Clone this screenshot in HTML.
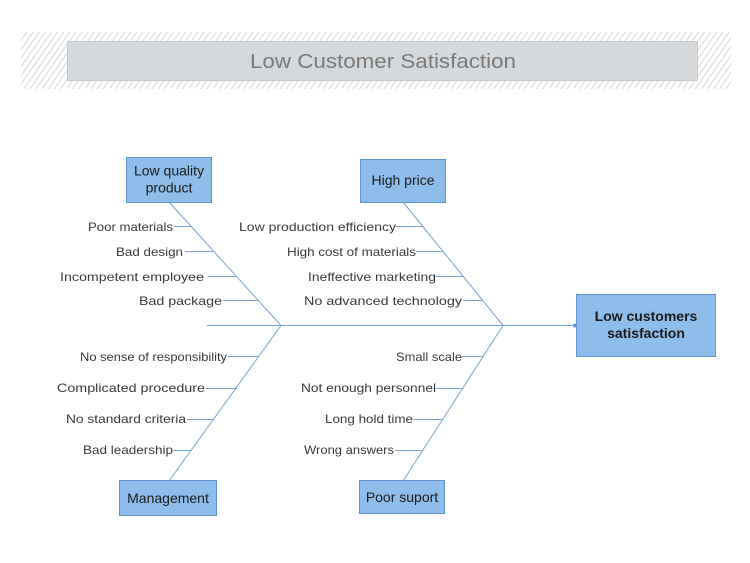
<!DOCTYPE html>
<html>
<head>
<meta charset="utf-8">
<style>
html,body{margin:0;padding:0;background:#fff;}
svg{display:block;}
.lbl{font-family:"Liberation Sans",sans-serif;font-size:12px;fill:#3a3a3a;}
.box{fill:#8fbdeb;stroke:#5f93d2;stroke-width:1;}
.bt{font-family:"Liberation Sans",sans-serif;font-size:14px;fill:#1a1a1a;text-anchor:middle;}
.ln{stroke:#77a3da;stroke-width:1;fill:none;}
</style>
</head>
<body>
<svg width="750" height="563" viewBox="0 0 750 563" xmlns="http://www.w3.org/2000/svg">
<defs>
<pattern id="hatch" patternUnits="userSpaceOnUse" width="5" height="5" patternTransform="rotate(35)">
<line x1="0.5" y1="0" x2="0.5" y2="5" stroke="#d6d6d6" stroke-width="1"/>
</pattern>
</defs>
<!-- title -->
<rect x="21" y="32" width="710" height="57" fill="url(#hatch)"/>
<rect x="67.5" y="41.5" width="630" height="39" fill="#d5d9dc" stroke="#c3c8cb"/>
<rect x="67.5" y="41.5" width="630" height="39" fill="url(#hatch)" opacity="0.35"/>
<text x="383" y="68" font-family="Liberation Sans, sans-serif" font-size="20" fill="#7a7a7a" text-anchor="middle" textLength="266" lengthAdjust="spacingAndGlyphs">Low Customer Satisfaction</text>

<!-- spine -->
<line class="ln" x1="207" y1="325.5" x2="575" y2="325.5"/>
<circle cx="575" cy="325.5" r="2" fill="#5f93d2"/>

<!-- diagonals -->
<line class="ln" x1="169" y1="202" x2="281" y2="325.5"/>
<line class="ln" x1="281" y1="325.5" x2="169" y2="481"/>
<line class="ln" x1="403" y1="202" x2="503" y2="325.5"/>
<line class="ln" x1="503" y1="325.5" x2="403" y2="481"/>

<!-- left-top sub lines -->
<line class="ln" x1="174" y1="226.5" x2="191" y2="226.5"/>
<line class="ln" x1="185" y1="251.5" x2="213" y2="251.5"/>
<line class="ln" x1="208" y1="276.5" x2="236" y2="276.5"/>
<line class="ln" x1="223" y1="300.5" x2="258" y2="300.5"/>
<!-- right-top -->
<line class="ln" x1="396" y1="226.5" x2="423" y2="226.5"/>
<line class="ln" x1="416" y1="251.5" x2="443" y2="251.5"/>
<line class="ln" x1="436" y1="276.5" x2="463" y2="276.5"/>
<line class="ln" x1="463" y1="300.5" x2="483" y2="300.5"/>
<!-- left-bottom -->
<line class="ln" x1="228" y1="356.5" x2="258" y2="356.5"/>
<line class="ln" x1="206" y1="388.5" x2="237" y2="388.5"/>
<line class="ln" x1="187" y1="419.5" x2="214" y2="419.5"/>
<line class="ln" x1="173" y1="450.5" x2="191" y2="450.5"/>
<!-- right-bottom -->
<line class="ln" x1="462" y1="356.5" x2="483" y2="356.5"/>
<line class="ln" x1="436" y1="388.5" x2="463" y2="388.5"/>
<line class="ln" x1="414" y1="419.5" x2="443" y2="419.5"/>
<line class="ln" x1="395" y1="450.5" x2="422" y2="450.5"/>

<!-- labels -->
<text class="lbl" x="173" y="231" text-anchor="end" textLength="85" lengthAdjust="spacingAndGlyphs">Poor materials</text>
<text class="lbl" x="183" y="256" text-anchor="end" textLength="67" lengthAdjust="spacingAndGlyphs">Bad design</text>
<text class="lbl" x="204" y="281" text-anchor="end" textLength="144" lengthAdjust="spacingAndGlyphs">Incompetent employee</text>
<text class="lbl" x="222" y="305" text-anchor="end" textLength="83" lengthAdjust="spacingAndGlyphs">Bad package</text>

<text class="lbl" x="396" y="231" text-anchor="end" textLength="157" lengthAdjust="spacingAndGlyphs">Low production efficiency</text>
<text class="lbl" x="416" y="256" text-anchor="end" textLength="129" lengthAdjust="spacingAndGlyphs">High cost of materials</text>
<text class="lbl" x="436" y="281" text-anchor="end" textLength="128" lengthAdjust="spacingAndGlyphs">Ineffective marketing</text>
<text class="lbl" x="462" y="305" text-anchor="end" textLength="158" lengthAdjust="spacingAndGlyphs">No advanced technology</text>

<text class="lbl" x="227" y="361" text-anchor="end" textLength="147" lengthAdjust="spacingAndGlyphs">No sense of responsibility</text>
<text class="lbl" x="205" y="392" text-anchor="end" textLength="148" lengthAdjust="spacingAndGlyphs">Complicated procedure</text>
<text class="lbl" x="186" y="423" text-anchor="end" textLength="120" lengthAdjust="spacingAndGlyphs">No standard criteria</text>
<text class="lbl" x="173" y="454" text-anchor="end" textLength="90" lengthAdjust="spacingAndGlyphs">Bad leadership</text>

<text class="lbl" x="462" y="361" text-anchor="end" textLength="66" lengthAdjust="spacingAndGlyphs">Small scale</text>
<text class="lbl" x="436" y="392" text-anchor="end" textLength="135" lengthAdjust="spacingAndGlyphs">Not enough personnel</text>
<text class="lbl" x="413" y="423" text-anchor="end" textLength="88" lengthAdjust="spacingAndGlyphs">Long hold time</text>
<text class="lbl" x="394" y="454" text-anchor="end" textLength="90" lengthAdjust="spacingAndGlyphs">Wrong answers</text>

<!-- boxes -->
<rect class="box" x="126.5" y="157.5" width="85" height="45"/>
<text class="bt" x="169" y="175.5">Low quality</text>
<text class="bt" x="169" y="192.5">product</text>

<rect class="box" x="360.5" y="159.5" width="85" height="43"/>
<text class="bt" x="403" y="185">High price</text>

<rect class="box" x="119.5" y="480.5" width="97" height="35"/>
<text class="bt" x="168" y="503">Management</text>

<rect class="box" x="359.5" y="480.5" width="85" height="33"/>
<text class="bt" x="402" y="502">Poor suport</text>

<rect class="box" x="576.5" y="294.5" width="139" height="62"/>
<text class="bt" x="646" y="321" font-weight="bold">Low customers</text>
<text class="bt" x="646" y="338" font-weight="bold">satisfaction</text>
</svg>
</body>
</html>
